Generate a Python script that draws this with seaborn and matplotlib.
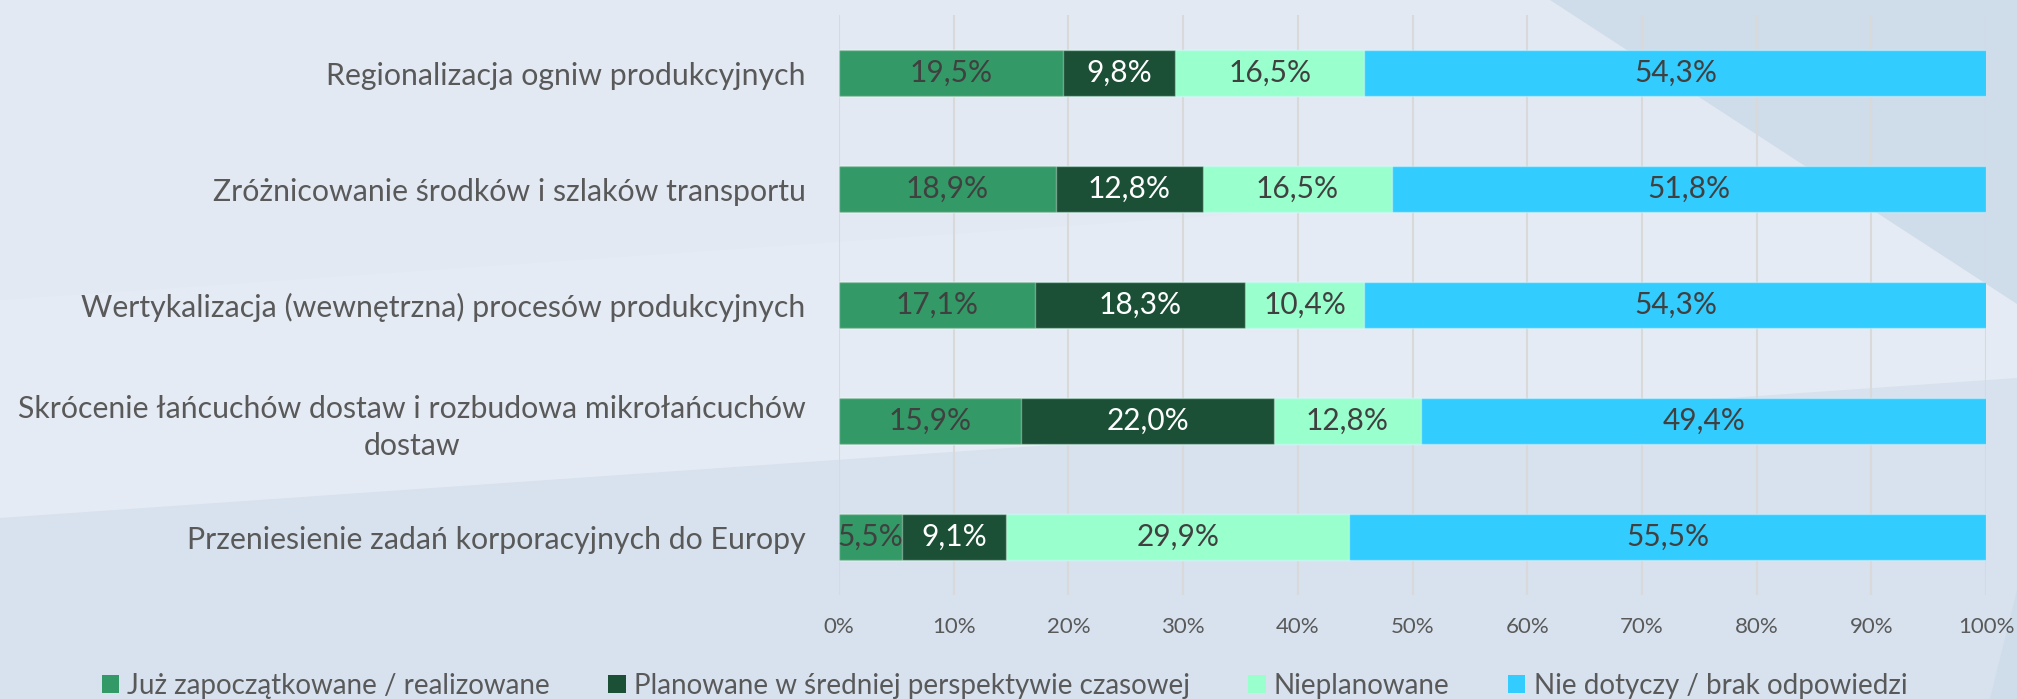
import numpy as np
import pandas as pd
import matplotlib
matplotlib.use("Agg")
import matplotlib.pyplot as plt
from matplotlib.patches import Patch, Polygon
import seaborn as sns

categories = [
    "Regionalizacja ogniw produkcyjnych",
    "Zróżnicowanie środków i szlaków transportu",
    "Wertykalizacja (wewnętrzna) procesów produkcyjnych",
    "Skrócenie łańcuchów dostaw i rozbudowa mikrołańcuchów\ndostaw",
    "Przeniesienie zadań korporacyjnych do Europy",
]
series_names = [
    "Już zapoczątkowane / realizowane",
    "Planowane w średniej perspektywie czasowej",
    "Nieplanowane",
    "Nie dotyczy / brak odpowiedzi",
]
already = [19.5, 18.9, 17.1, 15.9, 5.5]
planned = [9.8, 12.8, 18.3, 22.0, 9.1]
unplanned = [16.5, 16.5, 10.4, 12.8, 29.9]
not_applicable = [54.3, 51.8, 54.3, 49.4, 55.5]
xticks = [0, 10, 20, 30, 40, 50, 60, 70, 80, 90, 100]

colors = ["#339966", "#1b5036", "#99ffcc", "#33ccff"]
label_colors = ["#404040", "#ffffff", "#404040", "#404040"]

sns.set_theme(style="white")
plt.rcParams["font.family"] = ["Lato", "DejaVu Sans"]

W, H = 2017, 699
fig = plt.figure(figsize=(W / 100, H / 100), dpi=100)
fig.patch.set_facecolor("#e3e9f3")

def fpoly(pts, color):
    p = Polygon([(x / W, 1 - y / H) for x, y in pts], closed=True,
                transform=fig.transFigure, facecolor=color, edgecolor="none", zorder=-10)
    fig.patches.append(p)

# background decoration
fpoly([(0, 300), (2017, 160), (2017, 380), (0, 518)], "#e5ebf4")
fpoly([(0, 518), (2017, 378), (2017, 699), (0, 699)], "#d7e2ee")
fpoly([(1550, 0), (2017, 0), (2017, 304)], "#cfdcea")
fpoly([(1990, 699), (2017, 590), (2017, 699)], "#cfdcea")

ax = fig.add_axes([839 / W, 1 - 595 / H, (1986 - 839) / W, (595 - 15) / H])
ax.set_facecolor("none")

data = np.array([already, planned, unplanned, not_applicable])
cum = np.cumsum(data, axis=0)

for i in reversed(range(len(series_names))):
    df = pd.DataFrame({"cat": categories, "val": cum[i]})
    sns.barplot(data=df, x="val", y="cat", orient="h", color=colors[i],
                width=0.404, ax=ax, saturation=1, zorder=2,
                edgecolor=(1, 1, 1, 0.35), linewidth=1.0)

for i in range(len(series_names)):
    for j in range(len(categories)):
        v = data[i, j]
        xc = cum[i, j] - v / 2
        ax.text(xc, j, f"{v:.1f}".replace(".", ",") + "%", ha="center", va="center",
                fontsize=21.5, color=label_colors[i], zorder=5)

ax.set_xlim(0, 100)
ax.set_ylim(4.5, -0.5)
ax.set_xticks(xticks)
ax.set_xticklabels([f"{t}%" for t in xticks], fontsize=16, color="#595959")
ax.tick_params(axis="x", length=0, pad=16)
ax.tick_params(axis="y", length=0, pad=24, labelsize=21.8, labelcolor="#595959")
for lab in ax.get_yticklabels():
    lab.set_multialignment("center")
    lab.set_linespacing(1.35)
ax.set_xlabel("")
ax.set_ylabel("")
ax.grid(axis="x", color="#d9d9d9", linewidth=1.5, zorder=0)
ax.set_axisbelow(True)
for s in ax.spines.values():
    s.set_visible(False)

handles = [Patch(facecolor=c, edgecolor="none") for c in colors]
fig.legend(handles, series_names, loc="center", bbox_to_anchor=(0.498, 1 - 686 / H),
           ncol=4, frameon=False, fontsize=20, labelcolor="#595959",
           handlelength=0.62, handleheight=0.62, handletextpad=0.3,
           columnspacing=2.1, borderpad=0, borderaxespad=0)

fig.savefig("out.png", dpi=100, facecolor=fig.get_facecolor())
